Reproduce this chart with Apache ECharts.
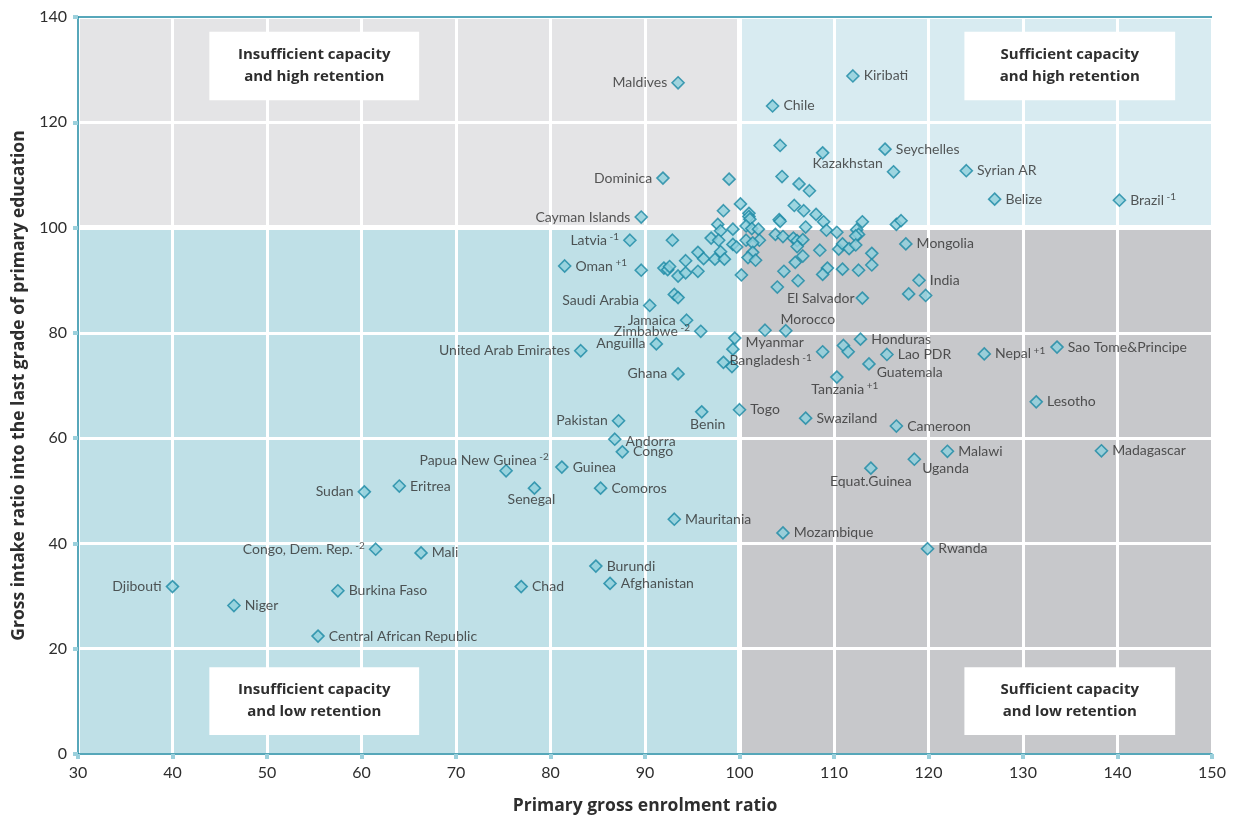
<!DOCTYPE html>
<html><head><meta charset="utf-8">
<script src="https://cdn.jsdelivr.net/npm/echarts@6/dist/echarts.min.js"></script>
<style>html,body{margin:0;padding:0;background:#fff}#c{width:1233px;height:821px}</style>
</head><body><div id="c"></div>
<script>
// ---- DATA ----
const countries = ["Maldives","Kiribati","Chile","Seychelles","Kazakhstan","Syrian AR","Belize","Brazil","Dominica","Cayman Islands","Latvia","Oman","Mongolia","India","Saudi Arabia","El Salvador","Jamaica","Morocco","Zimbabwe","Anguilla","United Arab Emirates","Myanmar","Bangladesh","Honduras","Lao PDR","Guatemala","Tanzania","Nepal","Sao Tome&Principe","Lesotho","Madagascar","Ghana","Togo","Benin","Swaziland","Cameroon","Pakistan","Andorra","Congo","Malawi","Uganda","Equat.Guinea","Papua New Guinea","Guinea","Senegal","Comoros","Sudan","Eritrea","Mauritania","Mozambique","Rwanda","Congo, Dem. Rep.","Mali","Burundi","Afghanistan","Chad","Djibouti","Burkina Faso","Niger","Central African Republic"];
const enrolment = [93.5,112.0,103.5,115.4,108.8,124.0,127.0,140.2,91.9,89.6,88.4,81.5,117.6,119.0,90.5,113.0,94.4,104.9,95.9,91.2,83.2,99.5,108.8,112.8,115.6,113.7,110.3,125.9,133.6,131.4,138.3,93.5,100.0,96.0,107.0,116.6,87.2,86.8,87.6,122.0,118.5,113.9,75.3,81.2,78.3,85.3,60.3,64.0,93.1,104.6,119.9,61.5,66.3,84.8,86.3,76.9,40.0,57.5,46.5,55.4];
const intake = [127.5,128.8,123.1,114.9,114.2,110.8,105.4,105.2,109.4,102.0,97.6,92.7,96.9,90.0,85.2,86.6,82.4,80.4,80.3,77.9,76.6,79.0,76.4,78.8,75.9,74.1,71.6,76.0,77.3,66.9,57.6,72.2,65.4,65.0,63.8,62.3,63.3,59.8,57.4,57.5,56.0,54.3,53.8,54.5,50.5,50.5,49.8,50.9,44.6,42.0,39.0,38.9,38.2,35.7,32.4,31.8,31.8,31.0,28.2,22.4];
const notes = {"Brazil":"-1","Latvia":"-1","Oman":"+1","Zimbabwe":"-2","Bangladesh":"-1","Tanzania":"+1","Nepal":"+1","Papua New Guinea":"-2","Congo, Dem. Rep.":"-2"};
const otherEnrolment = [104.3,116.3,98.9,104.5,106.3,107.4,100.1,98.3,101.0,101.0,101.1,105.8,106.8,108.1,104.2,104.3,108.9,113.0,116.6,117.1,97.7,100.7,101.3,102.0,99.3,98.0,107.0,109.2,110.3,112.4,112.6,112.3,103.8,104.6,105.7,106.1,106.7,97.0,97.8,92.9,100.7,102.1,101.4,99.3,99.7,106.1,98.0,101.4,95.6,96.2,97.4,98.4,100.9,101.7,105.9,106.7,108.5,110.5,110.9,111.6,112.3,114.0,114.0,110.9,112.6,109.3,108.8,106.2,104.7,104.0,117.9,119.7,92.0,92.4,92.6,94.3,93.5,94.3,95.6,89.6,93.1,93.5,100.2,102.7,99.3,98.3,99.2,111.0,111.5];
const otherIntake = [115.6,110.6,109.2,109.7,108.3,107.0,104.5,103.2,102.7,102.1,101.6,104.2,103.2,102.5,101.5,101.2,101.1,101.1,100.6,101.3,100.6,100.3,99.8,99.7,99.7,99.4,100.1,99.5,99.1,99.6,98.7,98.4,98.7,98.3,98.0,97.5,97.7,98.0,97.6,97.6,97.6,97.6,97.1,96.8,96.3,96.4,95.4,95.3,95.3,94.1,94.0,94.0,94.3,93.8,93.4,94.6,95.7,95.9,96.9,96.0,96.7,95.1,92.9,92.1,91.9,92.3,91.1,89.9,91.7,88.7,87.4,87.1,92.3,92.0,92.6,93.7,90.8,91.4,91.7,91.9,87.3,86.7,91.0,80.5,76.9,74.4,73.6,77.6,76.4];
const quadrantTitles = ["Insufficient capacity\nand high retention","Sufficient capacity\nand high retention","Insufficient capacity\nand low retention","Sufficient capacity\nand low retention"];
const xName = "Primary gross enrolment ratio";
const yName = "Gross intake ratio into the last grade of primary education";
const threshold = 100;

// ---- STYLE / PLACEMENT ----
const FONT = "Lato";
const BFONT = "Open Sans";
const TXT = "#2e2e2e";
const labelPlace = {
  "Maldives":{position:"left"},"Dominica":{position:"left"},"Cayman Islands":{position:"left"},
  "Latvia":{position:"left"},"Jamaica":{position:"left"},"Zimbabwe":{position:"left"},
  "Anguilla":{position:"left"},"United Arab Emirates":{position:"left"},"Ghana":{position:"left"},
  "Pakistan":{position:"left"},"Djibouti":{position:"left"},"Congo, Dem. Rep.":{position:"left"},
  "Sudan":{position:"left"},"El Salvador":{position:"left",distance:1},
  "Saudi Arabia":{position:"left",offset:[0,-5]},
  "Bangladesh":{position:"left",offset:[0,9]},
  "Kazakhstan":{position:"bottom",offset:[25,-7]},
  "Morocco":{position:"top",offset:[22,7]},
  "Tanzania":{position:"bottom",offset:[8,-7]},
  "Guatemala":{position:"right",offset:[-3,9]},
  "Uganda":{position:"right",offset:[-3,9]},
  "Equat.Guinea":{position:"bottom",offset:[0,-4]},
  "Benin":{position:"bottom",offset:[6,-5]},
  "Senegal":{position:"bottom",offset:[-3,-6]},
  "Papua New Guinea":{position:"top",offset:[-22,9]},
  "Myanmar":{position:"right",offset:[0,4]},
  "Andorra":{position:"right",offset:[0,2]}
};

const markerStyle = {color:"#8fcfdc", borderColor:"#1a88a4", borderWidth:1.6};
const labeled = countries.map((c,i)=>{
  const pl = labelPlace[c] || {position:"right"};
  return {name:c, value:[enrolment[i], intake[i]], label:Object.assign({show:true, distance:4}, pl)};
});
const others = otherEnrolment.map((x,i)=>[x, otherIntake[i]]);

const chart = echarts.init(document.getElementById('c'), null, {renderer:'canvas'});
const X0 = 30, X1 = 150, Y0 = 0, Y1 = 140;
const quadrants = [
  [{xAxis:X0,yAxis:threshold,itemStyle:{color:"#e4e4e6"}},{xAxis:threshold,yAxis:Y1}],
  [{xAxis:threshold,yAxis:threshold,itemStyle:{color:"#d8ebf1"}},{xAxis:X1,yAxis:Y1}],
  [{xAxis:X0,yAxis:Y0,itemStyle:{color:"#bfe0e7"}},{xAxis:threshold,yAxis:threshold}],
  [{xAxis:threshold,yAxis:Y0,itemStyle:{color:"#c7c8cb"}},{xAxis:X1,yAxis:threshold}]
];
const boxX = [[43.9,66.1],[123.8,146.1]];
const boxY = [[124.2,137.2],[3.6,16.5]];
const boxes = [];
quadrantTitles.forEach((t,i)=>{
  const bx = boxX[i%2], by = boxY[Math.floor(i/2)];
  boxes.push([{name:t, xAxis:bx[0], yAxis:by[1]},{xAxis:bx[1], yAxis:by[0]}]);
});

chart.setOption({
  animation:false,
  grid:{left:78, right:21, top:17, bottom:67, containLabel:false},
  xAxis:{
    type:'value', min:X0, max:X1, interval:10, z:2,
    name:xName, nameLocation:'middle', nameGap:43,
    nameTextStyle:{fontFamily:BFONT, fontSize:17.5, fontWeight:'bold', color:TXT},
    axisLine:{show:true, lineStyle:{color:"#1f8aa3", width:1.5}},
    axisTick:{show:true, length:5, lineStyle:{color:"#9bd0dc", width:4}},
    axisLabel:{fontFamily:FONT, fontSize:16, color:TXT, margin:11},
    splitLine:{show:true, lineStyle:{color:"#ffffff", width:3}}
  },
  yAxis:{
    type:'value', min:Y0, max:Y1, interval:20, z:2,
    name:yName, nameLocation:'middle', nameGap:50,
    nameTextStyle:{fontFamily:BFONT, fontSize:17.5, fontWeight:'bold', color:TXT},
    axisLine:{show:true, lineStyle:{color:"#1f8aa3", width:1.5}},
    axisTick:{show:true, length:5, lineStyle:{color:"#9bd0dc", width:4}},
    axisLabel:{fontFamily:FONT, fontSize:16, color:TXT, margin:11},
    splitLine:{show:true, lineStyle:{color:"#ffffff", width:3}}
  },
  series:[
    {
      type:'scatter', data:[], silent:true,
      markArea:{silent:true, z:1, data:quadrants, label:{show:false}},
      markLine:{silent:true, z:1.5, symbol:'none', label:{show:false},
        lineStyle:{color:"#ffffff", width:5, type:'solid'},
        data:[{xAxis:threshold},{yAxis:threshold}]}
    },
    {
      type:'scatter', data:[], silent:true,
      markArea:{silent:true, z:3, data:boxes, itemStyle:{color:"#ffffff"},
        label:{show:true, position:'inside', fontFamily:BFONT, fontSize:15, fontWeight:'bold', color:TXT, lineHeight:22}},
      markLine:{silent:true, z:3, symbol:'none', label:{show:false},
        lineStyle:{color:"#1f8aa3", width:1.5, type:'solid'},
        data:[{yAxis:Y1}]}
    },
    {
      type:'scatter', z:4, symbol:'diamond', symbolSize:12,
      itemStyle:markerStyle, data:others, silent:true
    },
    {
      type:'scatter', z:4, symbol:'diamond', symbolSize:12,
      itemStyle:markerStyle, data:labeled, silent:true,
      label:{show:true, position:'right', distance:4,
        formatter:p=>{const n = notes[p.name]; return n ? `{n|${p.name}}{s| ${n}}` : `{n|${p.name}}`;},
        rich:{
          n:{fontFamily:FONT, fontSize:14, color:TXT},
          s:{fontFamily:FONT, fontSize:10, color:TXT, padding:[0,0,7,0]}
        }
      }
    }
  ]
});
</script></body></html>
